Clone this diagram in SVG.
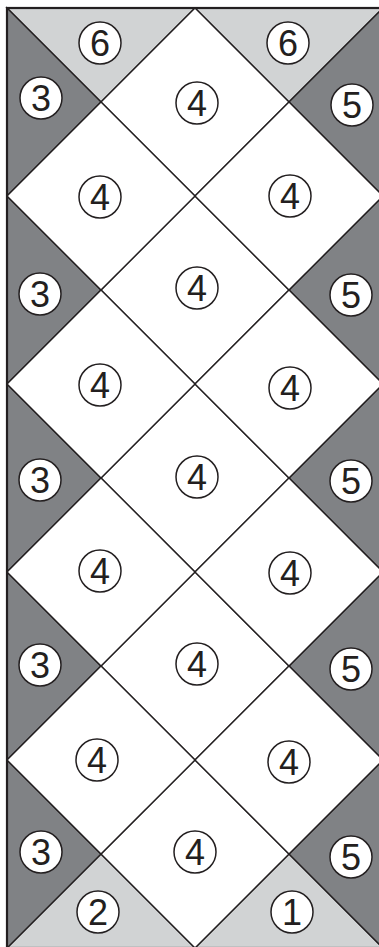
<svg xmlns="http://www.w3.org/2000/svg" width="379" height="947" viewBox="0 0 379 947">
<style>
.dk{fill:#808285;stroke:#231f20;stroke-width:1.4;stroke-linejoin:miter}
.lt{fill:#d1d3d4;stroke:#231f20;stroke-width:1.4}
.wh{fill:#ffffff;stroke:#231f20;stroke-width:1.4}
.c{fill:#ffffff;stroke:#231f20;stroke-width:1.5}
.t{font-family:"Liberation Sans",Arial,sans-serif;font-size:36px;fill:#231f20;text-anchor:middle}
</style>
<rect x="0" y="0" width="379" height="947" fill="#ffffff"/>
<defs>
<g id="lbl4"><circle class="c" r="21"/><text class="t" y="13">4</text></g>
</defs>
<!-- top light triangles -->
<g id="tri6a"><polygon class="lt" points="7,8 195,8 101,102"/><circle class="c" cx="100" cy="43" r="21"/><text class="t" x="100" y="56">6</text></g>
<g id="tri6b"><polygon class="lt" points="195,8 383,8 289,102"/><circle class="c" cx="288" cy="43" r="21"/><text class="t" x="288" y="56">6</text></g>
<!-- bottom light triangles -->
<g id="tri2"><polygon class="lt" points="7,948 101,854 195,948"/><circle class="c" cx="98" cy="912" r="21"/><text class="t" x="98" y="925">2</text></g>
<g id="tri1"><polygon class="lt" points="195,948 289,854 383,948"/><circle class="c" cx="292" cy="912" r="21"/><text class="t" x="292" y="925">1</text></g>
<!-- left dark triangles -->
<g id="tri3a"><polygon class="dk" points="7,8 101,102 7,196"/><circle class="c" cx="41" cy="98" r="21"/><text class="t" x="41" y="111">3</text></g>
<g id="tri3b"><polygon class="dk" points="7,196 101,290 7,384"/><circle class="c" cx="40" cy="294" r="21"/><text class="t" x="40" y="307">3</text></g>
<g id="tri3c"><polygon class="dk" points="7,384 101,478 7,572"/><circle class="c" cx="40" cy="480" r="21"/><text class="t" x="40" y="493">3</text></g>
<g id="tri3d"><polygon class="dk" points="7,572 101,666 7,760"/><circle class="c" cx="40" cy="665" r="21"/><text class="t" x="40" y="678">3</text></g>
<g id="tri3e"><polygon class="dk" points="7,760 101,854 7,948"/><circle class="c" cx="41" cy="852" r="21"/><text class="t" x="41" y="865">3</text></g>
<!-- right dark triangles -->
<g id="tri5a"><polygon class="dk" points="383,8 289,102 383,196"/><circle class="c" cx="352" cy="105" r="21"/><text class="t" x="352" y="118">5</text></g>
<g id="tri5b"><polygon class="dk" points="383,196 289,290 383,384"/><circle class="c" cx="351" cy="295" r="21"/><text class="t" x="351" y="308">5</text></g>
<g id="tri5c"><polygon class="dk" points="383,384 289,478 383,572"/><circle class="c" cx="351" cy="481" r="21"/><text class="t" x="351" y="494">5</text></g>
<g id="tri5d"><polygon class="dk" points="383,572 289,666 383,760"/><circle class="c" cx="351" cy="669" r="21"/><text class="t" x="351" y="682">5</text></g>
<g id="tri5e"><polygon class="dk" points="383,760 289,854 383,948"/><circle class="c" cx="351" cy="857" r="21"/><text class="t" x="351" y="870">5</text></g>
<!-- center column diamonds -->
<g id="dc1"><polygon class="wh" points="195,8 289,102 195,196 101,102"/><use href="#lbl4" x="197" y="103"/></g>
<g id="dc2"><polygon class="wh" points="195,196 289,290 195,384 101,290"/><use href="#lbl4" x="197" y="288"/></g>
<g id="dc3"><polygon class="wh" points="195,384 289,478 195,572 101,478"/><use href="#lbl4" x="197" y="477"/></g>
<g id="dc4"><polygon class="wh" points="195,572 289,666 195,760 101,666"/><use href="#lbl4" x="197" y="664"/></g>
<g id="dc5"><polygon class="wh" points="195,760 289,854 195,948 101,854"/><use href="#lbl4" x="195" y="852"/></g>
<!-- left column diamonds -->
<g id="dl1"><polygon class="wh" points="101,102 195,196 101,290 7,196"/><use href="#lbl4" x="100" y="197"/></g>
<g id="dl2"><polygon class="wh" points="101,290 195,384 101,478 7,384"/><use href="#lbl4" x="100" y="385"/></g>
<g id="dl3"><polygon class="wh" points="101,478 195,572 101,666 7,572"/><use href="#lbl4" x="100" y="571"/></g>
<g id="dl4"><polygon class="wh" points="101,666 195,760 101,854 7,760"/><use href="#lbl4" x="97" y="760"/></g>
<!-- right column diamonds -->
<g id="dr1"><polygon class="wh" points="289,102 383,196 289,290 195,196"/><use href="#lbl4" x="290" y="196"/></g>
<g id="dr2"><polygon class="wh" points="289,290 383,384 289,478 195,384"/><use href="#lbl4" x="290" y="388"/></g>
<g id="dr3"><polygon class="wh" points="289,478 383,572 289,666 195,572"/><use href="#lbl4" x="290" y="573"/></g>
<g id="dr4"><polygon class="wh" points="289,666 383,760 289,854 195,760"/><use href="#lbl4" x="289" y="762"/></g>
<!-- outer border -->
<g id="border"><rect x="7" y="8" width="376" height="940" fill="none" stroke="#231f20" stroke-width="2.2"/></g>
</svg>
